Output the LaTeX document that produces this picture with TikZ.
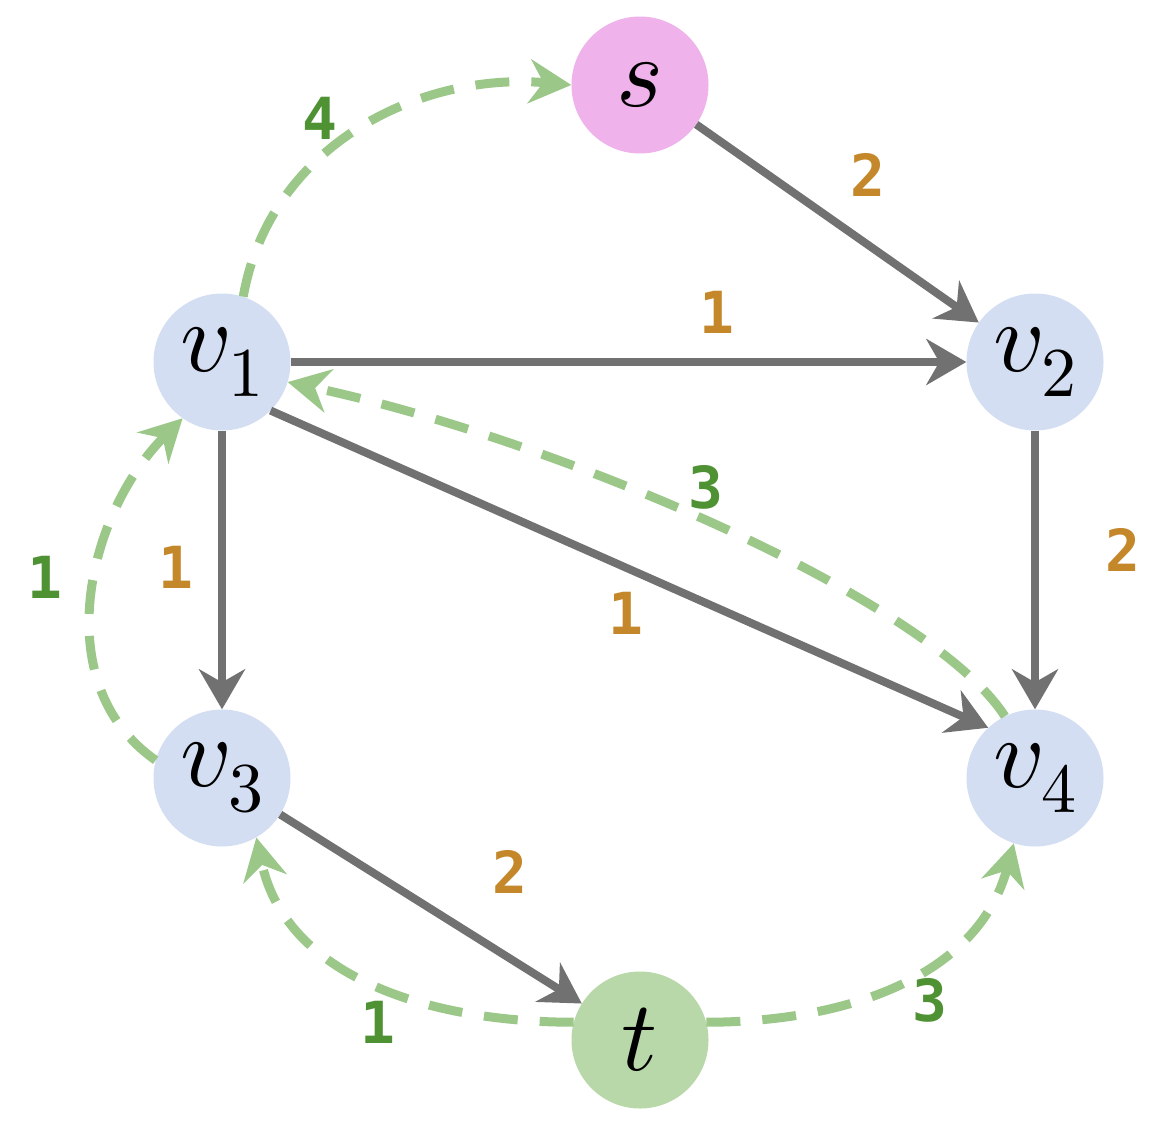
\documentclass[tikz,border=0pt]{standalone}
\usepackage{fontspec}
\usepackage{unicode-math}
\usetikzlibrary{arrows.meta}
\newfontfamily\wfont{DejaVu Sans Mono}
\definecolor{pinkc}{HTML}{F0B2EA}
\definecolor{bluec}{HTML}{D4DEF2}
\definecolor{tgreen}{HTML}{B9D8A9}
\definecolor{grayc}{HTML}{717171}
\definecolor{dashc}{HTML}{9BC888}
\definecolor{orangec}{HTML}{C4872A}
\definecolor{lgreen}{HTML}{4F9234}
\begin{document}
\begin{tikzpicture}[x=1pt,y=1pt,
  vtx/.style={circle, minimum size=137pt, inner sep=0pt, font=\fontsize{100}{100}\selectfont},
  garr/.style={draw=grayc, line width=8pt, -{Stealth[length=40pt,width=46pt,inset=13pt]}},
  darr/.style={draw=dashc, line width=9pt, dash pattern=on 34pt off 22pt, -{Stealth[length=42pt,width=44pt,inset=14pt,fill=dashc]}},
  wl/.style={font=\wfont\bfseries\fontsize{58}{58}\selectfont, text=orangec},
  gl/.style={font=\wfont\bfseries\fontsize{58}{58}\selectfont, text=lgreen}]
\fill[white] (0,0) rectangle (1172,-1126);
\node[vtx, fill=pinkc] (s) at (640,-85) {$s$};
\node[vtx, fill=bluec] (v1) at (222,-362) {$v_1$};
\node[vtx, fill=bluec] (v2) at (1035,-362) {$v_2$};
\node[vtx, fill=bluec] (v3) at (222,-778) {$v_3$};
\node[vtx, fill=bluec] (v4) at (1035,-778) {$v_4$};
\node[vtx, fill=tgreen] (t) at (640,-1040) {$t$};
\draw[garr] (s) -- (v2);
\draw[garr] (v1) -- (v2);
\draw[garr] (v1) -- (v3);
\draw[garr] (v1.-45) -- (v4.133);
\draw[garr] (v2) -- (v4);
\draw[garr] (v3) -- (t);
\draw[darr] (v1.72) to[out=80,in=175] (s.180);
\draw[darr] (v4.116) .. controls (930,-600) and (560,-440) .. (v1.-17);
\draw[darr] (v3.165) to[out=145,in=225] (v1.235);
\draw[darr] (t.165) to[out=180,in=-78] (v3.-60);
\draw[darr] (t.15) to[out=0,in=-105] (v4.-108);
\node[gl] (l4) at (320,-118) {4};
\node[wl] (lsv2) at (868,-175) {2};
\node[wl] (lv1v2) at (717,-312) {1};
\node[gl] (l3a) at (706,-487) {3};
\node[wl] (lv2v4) at (1123,-550) {2};
\node[gl] (l1a) at (45,-577) {1};
\node[wl] (lv1v3) at (176,-567) {1};
\node[wl] (lv1v4) at (626,-613) {1};
\node[wl] (lv3t) at (510,-872) {2};
\node[gl] (l1b) at (378,-1022) {1};
\node[gl] (l3b) at (930,-1000) {3};
\end{tikzpicture}
\end{document}
